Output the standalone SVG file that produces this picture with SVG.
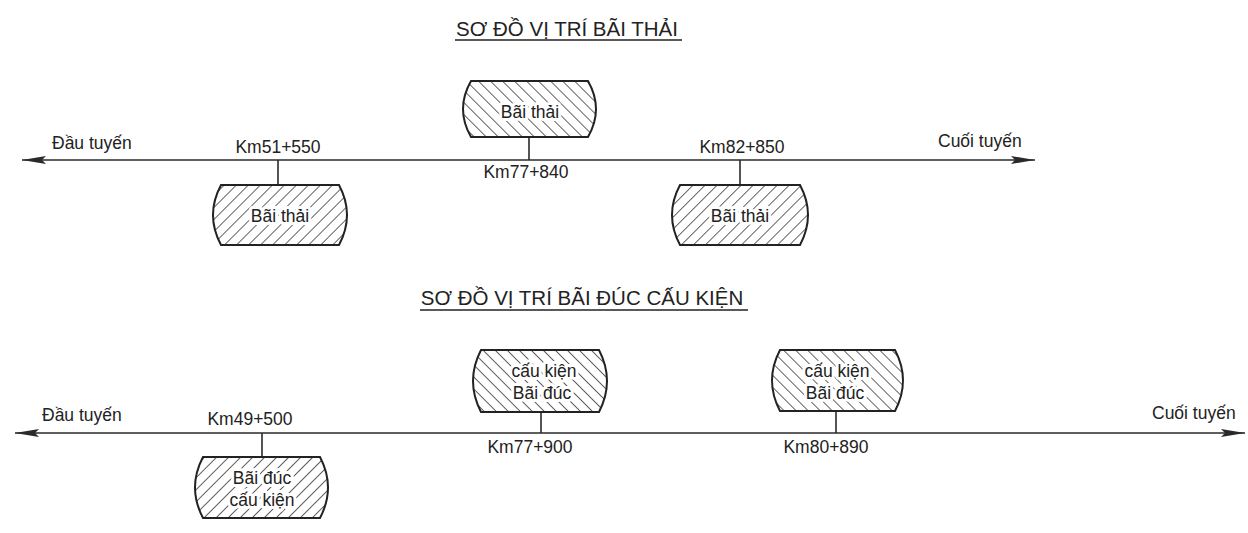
<svg xmlns="http://www.w3.org/2000/svg" width="1248" height="533" viewBox="0 0 1248 533">
<defs>
<style>
text{font-family:"Liberation Sans",Arial,sans-serif;font-size:17.5px;fill:#222}
.t{text-anchor:middle}
.lbl{text-anchor:middle;stroke:#fff;stroke-width:6;paint-order:stroke;stroke-linejoin:round}
.ax{stroke:#2a2a2a;stroke-width:1.6;fill:none}
.box{stroke:#222;stroke-width:2}
.bs{fill:url(#hb)}
.fs{fill:url(#hf)}
.title{font-size:20.5px;text-anchor:middle}
</style>
<pattern id="hb" patternUnits="userSpaceOnUse" width="8.5" height="8.5" patternTransform="rotate(-45)">
<rect width="8.5" height="8.5" fill="#fff"/>
<line x1="0" y1="0" x2="0" y2="8.5" stroke="#222" stroke-width="1.4"/>
</pattern>
<pattern id="hf" patternUnits="userSpaceOnUse" width="8.5" height="8.5" patternTransform="rotate(45)">
<rect width="8.5" height="8.5" fill="#fff"/>
<line x1="0" y1="0" x2="0" y2="8.5" stroke="#222" stroke-width="1.4"/>
</pattern>
<marker id="ah" viewBox="0 0 24 10" refX="24" refY="5" markerWidth="24" markerHeight="10" markerUnits="userSpaceOnUse" orient="auto-start-reverse">
<path d="M0,1 L24,5 L0,9 L4,5 Z" fill="#2a2a2a"/>
</marker>
</defs>

<g id="title1"><text class="title" x="567" y="36">SƠ ĐỒ VỊ TRÍ BÃI THẢI</text><line x1="455" y1="40" x2="682" y2="40" stroke="#222" stroke-width="1.3"/></g>
<g id="title2"><text class="title" x="582" y="305">SƠ ĐỒ VỊ TRÍ BÃI ĐÚC CẤU KIỆN</text><line x1="420" y1="310" x2="748" y2="310" stroke="#222" stroke-width="1.3"/></g>

<g id="connectors">
<line class="ax" x1="22" y1="160" x2="1035" y2="160" marker-start="url(#ah)" marker-end="url(#ah)"/>
<line class="ax" x1="529" y1="137" x2="529" y2="160"/>
<line class="ax" x1="278" y1="160" x2="278" y2="185"/>
<line class="ax" x1="740" y1="160" x2="740" y2="185"/>
<line class="ax" x1="15" y1="433" x2="1245" y2="433" marker-start="url(#ah)" marker-end="url(#ah)"/>
<line class="ax" x1="541" y1="412" x2="541" y2="433"/>
<line class="ax" x1="836" y1="411" x2="836" y2="433"/>
<line class="ax" x1="262" y1="433" x2="262" y2="457"/>
</g>

<g id="labels1">
<text x="52" y="149">Đầu tuyến</text>
<text x="938" y="147">Cuối tuyến</text>
<text class="t" x="278" y="153">Km51+550</text>
<text class="t" x="526" y="178">Km77+840</text>
<text class="t" x="742" y="153">Km82+850</text>
</g>
<g id="labels2">
<text x="42" y="421">Đầu tuyến</text>
<text x="1152" y="419">Cuối tuyến</text>
<text class="t" x="250" y="425">Km49+500</text>
<text class="t" x="530" y="453">Km77+900</text>
<text class="t" x="826" y="453">Km80+890</text>
</g>

<g id="bt1">
<path class="box bs" d="M471,81 L588,81 Q604,109 588,137 L471,137 Q455,109 471,81 Z"/>
<text class="lbl" x="530" y="118">Bãi thải</text>
</g>
<g id="bt2">
<path class="box fs" d="M221,185 L339,185 Q355,215 339,245 L221,245 Q205,215 221,185 Z"/>
<text class="lbl" x="280" y="222">Bãi thải</text>
</g>
<g id="bt3">
<path class="box fs" d="M680,185 L800,185 Q816,215 800,245 L680,245 Q664,215 680,185 Z"/>
<text class="lbl" x="740" y="222">Bãi thải</text>
</g>
<g id="bd1">
<path class="box bs" d="M481,350 L599,350 Q615,381 599,412 L481,412 Q465,381 481,350 Z"/>
<text class="lbl" x="544" y="377">cấu kiện</text>
<text class="lbl" x="542" y="399">Bãi đúc</text>
</g>
<g id="bd2">
<path class="box bs" d="M780,350 L895,350 Q911,380.5 895,411 L780,411 Q764,380.5 780,350 Z"/>
<text class="lbl" x="837" y="377">cấu kiện</text>
<text class="lbl" x="835" y="399">Bãi đúc</text>
</g>
<g id="bd3">
<path class="box fs" d="M203,457 L320,457 Q336,487.5 320,518 L203,518 Q187,487.5 203,457 Z"/>
<text class="lbl" x="262" y="484">Bãi đúc</text>
<text class="lbl" x="262" y="506">cấu kiện</text>
</g>
</svg>
